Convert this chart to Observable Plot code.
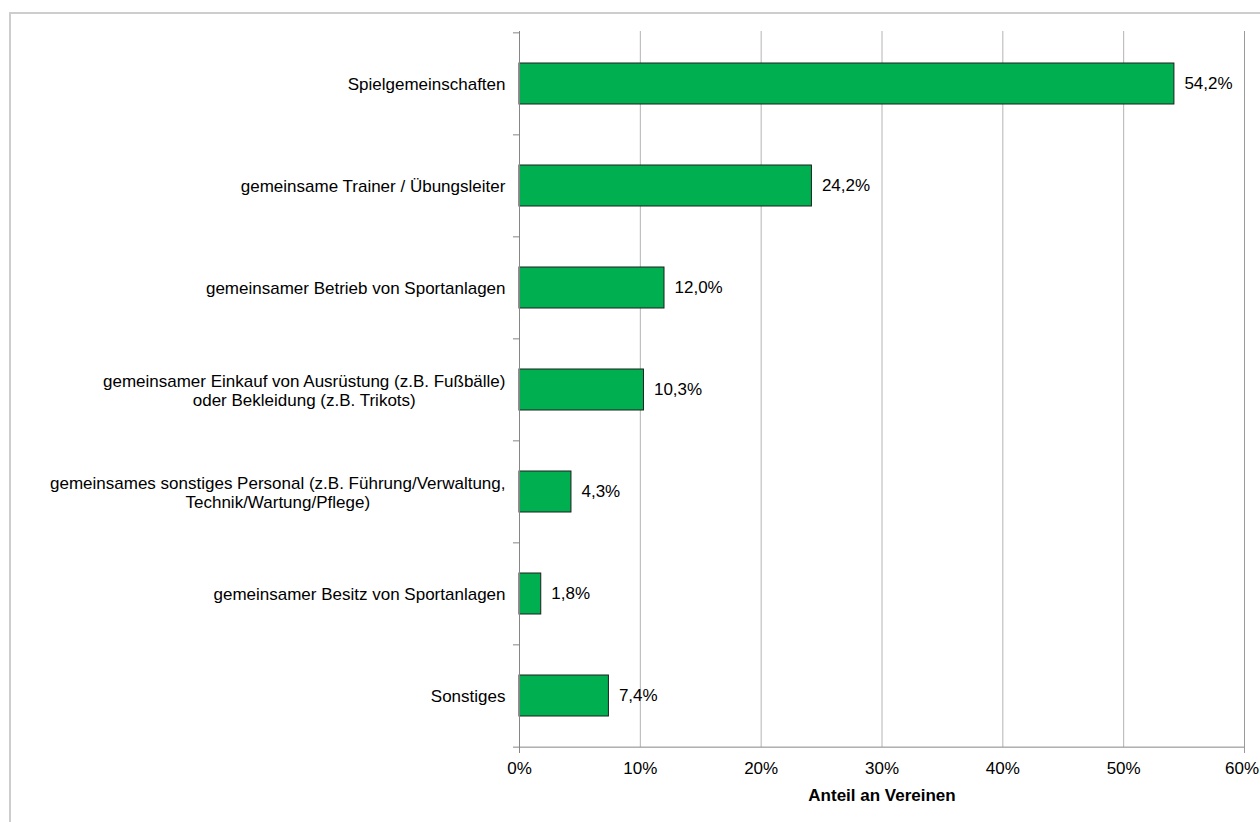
<!DOCTYPE html>
<html>
<head>
<meta charset="utf-8">
<script src="https://cdn.jsdelivr.net/npm/d3@7"></script>
<script src="https://cdn.jsdelivr.net/npm/@observablehq/plot@0.6"></script>
<style>
  html, body { margin: 0; padding: 0; background: #fff; overflow: hidden; }
  #wrap { position: relative; width: 1260px; height: 822px; overflow: hidden; }
  #frame { position: absolute; left: 9px; top: 12px; width: 1400px; height: 1000px; border: 2px solid #cdcdcd; box-sizing: border-box; }
  #chart { position: absolute; left: 0; top: 0; }
</style>
</head>
<body>
<div id="wrap"><div id="frame"></div><div id="chart"></div></div>
<script>
const categories = [
  "Spielgemeinschaften",
  "gemeinsame Trainer / Übungsleiter",
  "gemeinsamer Betrieb von Sportanlagen",
  "gemeinsamer Einkauf von Ausrüstung (z.B. Fußbälle)\noder Bekleidung (z.B. Trikots)",
  "gemeinsames sonstiges Personal (z.B. Führung/Verwaltung,\nTechnik/Wartung/Pflege)",
  "gemeinsamer Besitz von Sportanlagen",
  "Sonstiges"
];
const values = [54.2, 24.2, 12.0, 10.3, 4.3, 1.8, 7.4];
const xTicks = [0, 10, 20, 30, 40, 50, 60];
const xTitle = "Anteil an Vereinen";

const data = categories.map((c, i) => ({category: c, value: values[i]}));

const W = 1260, H = 822;
const mTop = 31, mBottom = 75, mLeft = 519, mRight = 16;
const step = (H - mTop - mBottom) / categories.length;
const fontFam = "'Liberation Sans', Arial, Helvetica, sans-serif";
const FS = 17;

const chart = Plot.plot({
  width: W,
  height: H,
  marginTop: mTop,
  marginBottom: mBottom,
  marginLeft: mLeft,
  marginRight: mRight,
  style: {fontFamily: fontFam, fontSize: FS + "px", color: "#000", background: "transparent"},
  x: {domain: [0, 60], ticks: xTicks},
  y: {domain: categories, paddingInner: 0.6, paddingOuter: 0.3},
  marks: [
    Plot.gridX(xTicks.filter(d => d > 0), {stroke: "#b4b4b4", strokeOpacity: 1, strokeWidth: 1}),
    Plot.barX(data, {x: "value", y: "category", fill: "#00b050", stroke: "#1e1e1e", strokeWidth: 1}),
    // y axis line (extends slightly below the x axis)
    Plot.ruleX([0], {stroke: "#868686", strokeWidth: 1, insetBottom: -6}),
    Plot.ruleX([60], {stroke: "#9a9a9a", strokeWidth: 1, insetBottom: -6}),
    // category boundary ticks
    Plot.ruleY(categories, {y: d => d, x1: -0.5, x2: 0, dy: -step / 2, stroke: "#868686", strokeWidth: 1}),
    // x axis line
    Plot.ruleY([categories[categories.length - 1]], {y: d => d, x1: -0.5, x2: 60, dy: step / 2, stroke: "#868686", strokeWidth: 1}),
    Plot.axisX(xTicks, {tickSize: 0, tickPadding: 14, tickFormat: d => d + "%", label: null, fontSize: FS, fill: "#000"}),
    Plot.axisY({tickSize: 0, tickPadding: 14, label: null, fontSize: FS, fill: "#000", lineHeight: 1.12}),
    Plot.text(data, {
      x: "value", y: "category",
      text: d => d.value.toFixed(1).replace(".", ",") + "%",
      textAnchor: "start", dx: 10, fontSize: FS, fill: "#000"
    }),
    Plot.text([xTitle], {frameAnchor: "bottom", dy: 53, text: d => d, fontWeight: "bold", fontSize: FS, fill: "#000"})
  ]
});

document.getElementById("chart").appendChild(chart);

// Center multi-line category labels on each other (right block edge kept)
chart.querySelectorAll('g[aria-label="y-axis tick label"] text').forEach(t => {
  const w = t.getBBox().width;
  t.setAttribute("text-anchor", "middle");
  const tspans = t.querySelectorAll("tspan");
  if (tspans.length) {
    tspans.forEach(ts => ts.setAttribute("x", -w / 2));
  } else {
    t.setAttribute("x", (parseFloat(t.getAttribute("x") || 0)) - w / 2);
  }
});

// keep the last x tick label inside the picture
const xl = chart.querySelectorAll('g[aria-label="x-axis tick label"] text');
if (xl.length) {
  const last = xl[xl.length - 1];
  const bb = last.getBoundingClientRect();
  const over = bb.right - (W - 1);
  if (over > 0) last.setAttribute("dx", -over);
}
</script>
</body>
</html>
